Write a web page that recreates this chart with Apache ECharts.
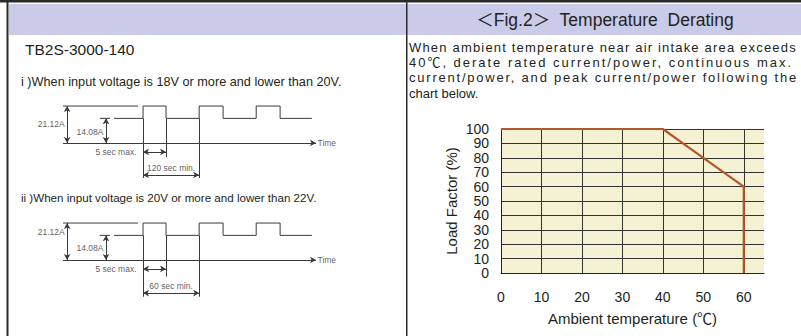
<!DOCTYPE html>
<html><head><meta charset="utf-8">
<script src="https://cdn.jsdelivr.net/npm/echarts@6/dist/echarts.min.js"></script>
<style>
html,body{margin:0;padding:0;background:#fff;}
#c{position:absolute;left:0;top:0;width:801px;height:336px;}
.p{position:absolute;left:409px;font-family:"Liberation Sans",Arial,"Noto Sans CJK JP",sans-serif;font-size:13px;color:#231f20;white-space:nowrap;line-height:15px;}
</style></head><body>
<div id="c"></div>
<div id="para"></div>
<script>
// ---------------- Derating chart data ----------------
const tempTicks = [0, 10, 20, 30, 40, 50, 60];
const loadTicks = [0, 10, 20, 30, 40, 50, 60, 70, 80, 90, 100];
const deratingTemp = [0, 40, 50, 60, 60];
const deratingLoad = [100, 100, 80, 60, 0];

// ---------------- Waveform schematic data (schematic time units, current A) ----------------
const peakCurrent = 21.12;
const ratedCurrent = 14.08;
const waveT = [11.1, 17.4, 17.4, 22.4, 22.4, 29.6, 29.6, 34.8, 34.8, 42.0, 42.0, 47.2, 47.2, 54.1];
const waveI = [14.08, 14.08, 21.12, 21.12, 14.08, 14.08, 21.12, 21.12, 14.08, 14.08, 21.12, 21.12, 14.08, 14.08];
const leadT = [0, 16.3];
const leadI = [21.12, 21.12];
const ratedTickT = [8.0, 10.2];
const timeAxisT = [0, 55];

// ---------------- Texts ----------------
const headerText = "＜Fig.2＞  Temperature  Derating";
const modelText = "TB2S-3000-140";
const cond1Text = "i )When input voltage is 18V or more and lower than 20V.";
const cond2Text = "ii )When input voltage is 20V or more and lower than 22V.";
const paraLines = [
  "When ambient temperature near air intake area  exceeds",
  "40℃, derate rated current/power, continuous max.",
  "current/power, and peak current/power following the",
  "chart below."
];
const xName = "Ambient temperature (℃)";
const yName = "Load Factor (%)";
const peakLabel = "21.12A", ratedLabel = "14.08A", pulseLabel = "5 sec max.", timeLabel = "Time";
const periodLabels = ["120 sec min.", "60 sec min."];

// ---------------- layout (positions in schematic coordinates) ----------------
const waveLayout = [
  {top: 101, peakLblY: 10.7, ratedLblY: 6.5, pulseY: -5.1, periodY: -18.3, periodLblY: -14.3, extLow: -20, extMid: -8},
  {top: 218, peakLblY: 16.0, ratedLblY: 7.0, pulseY: -5.1, periodY: -18.9, periodLblY: -14.7, extLow: -21, extMid: -9.5}
];

const FONT = '"Liberation Sans", Arial, "Noto Sans CJK JP", sans-serif';
const ink = '#231f20';
const wcol = '#3a3a3a';

const zip = (a, b) => a.map((v, i) => [v, b[i]]);

const chart = echarts.init(document.getElementById('c'), null, {renderer: 'svg', width: 801, height: 336});

const grids = [{left: 501, top: 129, width: 263, height: 144, show: true, backgroundColor: '#f4f2d3', borderWidth: 0}];
const xAxes = [{
  gridIndex: 0, type: 'value', min: 0, max: 65, interval: 10,
  axisLine: {show: true, onZero: false, lineStyle: {color: '#222', width: 1}},
  axisTick: {show: false},
  splitLine: {show: true, showMaxLine: false, lineStyle: {color: '#333', width: 1}},
  axisLabel: {fontSize: 14, color: ink, fontFamily: FONT, margin: 17,
    formatter: v => tempTicks.includes(v) ? String(v) : ''},
  name: xName, nameLocation: 'middle', nameGap: 38,
  nameTextStyle: {fontSize: 15, color: ink, fontFamily: FONT}
}];
const yAxes = [{
  gridIndex: 0, type: 'value', min: 0, max: 100, interval: 10,
  axisLine: {show: true, lineStyle: {color: '#222', width: 1}},
  axisTick: {show: false},
  splitLine: {show: true, lineStyle: {color: '#333', width: 1}},
  axisLabel: {fontSize: 14, color: ink, fontFamily: FONT, margin: 12,
    formatter: v => loadTicks.includes(v) ? String(v) : ''},
  name: yName, nameLocation: 'middle', nameGap: 42,
  nameTextStyle: {fontSize: 15, color: ink, fontFamily: FONT}
}];

const series = [{
  type: 'line', xAxisIndex: 0, yAxisIndex: 0, data: zip(deratingTemp, deratingLoad),
  symbol: 'none', lineStyle: {color: '#b5572c', width: 2.2}, z: 5, silent: true
}];

const arrowSym = 'arrow';
const aSize = [5, 6];
function dim(p1, p2, both) {
  return [{coord: p1, symbol: both ? arrowSym : 'none', symbolSize: aSize},
          {coord: p2, symbol: arrowSym, symbolSize: aSize}];
}
function seg(p1, p2) {
  return [{coord: p1, symbol: 'none'}, {coord: p2, symbol: 'none'}];
}

waveLayout.forEach((L, k) => {
  const gi = k + 1;
  grids.push({left: 63, top: L.top, width: 276, height: 84, show: false});
  xAxes.push({gridIndex: gi, type: 'value', min: 0, max: 60, show: false});
  yAxes.push({gridIndex: gi, type: 'value', min: -24, max: 24, show: false});
  const ls = {color: wcol, width: 1};
  series.push({
    type: 'line', xAxisIndex: gi, yAxisIndex: gi, data: zip(waveT, waveI), symbol: 'none',
    lineStyle: ls, silent: true,
    markLine: {
      silent: true, animation: false, label: {show: false}, lineStyle: {color: wcol, width: 1, type: 'solid'},
      emphasis: {disabled: true},
      data: [
        dim([timeAxisT[0], 0], [timeAxisT[1], 0], false),
        dim([0.9, 0], [0.9, peakCurrent], true),
        dim([9.35, 0], [9.35, ratedCurrent], true),
        seg([waveT[1], ratedCurrent], [waveT[1], L.extLow]),
        seg([waveT[3], ratedCurrent], [waveT[3], L.extMid]),
        seg([waveT[5], ratedCurrent], [waveT[5], L.extLow]),
        dim([waveT[1], L.pulseY], [waveT[3], L.pulseY], true),
        dim([waveT[1], L.periodY], [waveT[5], L.periodY], true)
      ]
    }
  });
  series.push({type: 'line', xAxisIndex: gi, yAxisIndex: gi, data: zip(leadT, leadI), symbol: 'none', lineStyle: ls, silent: true});
  series.push({type: 'line', xAxisIndex: gi, yAxisIndex: gi, data: zip(ratedTickT, [ratedCurrent, ratedCurrent]), symbol: 'none', lineStyle: ls, silent: true});
  const lblStyle = {show: true, formatter: '{b}', fontSize: 8.5, color: '#333', fontFamily: FONT};
  series.push({
    type: 'scatter', xAxisIndex: gi, yAxisIndex: gi, symbolSize: 1, itemStyle: {color: 'rgba(0,0,0,0)'}, silent: true,
    label: lblStyle,
    data: [
      {name: peakLabel, value: [0.9, L.peakLblY], label: {position: 'left', distance: 2}},
      {name: ratedLabel, value: [9.35, L.ratedLblY], label: {position: 'left', distance: 2}},
      {name: pulseLabel, value: [waveT[1], L.pulseY], label: {position: 'left', distance: 6}},
      {name: periodLabels[k], value: [(waveT[1] + waveT[5]) / 2, L.periodLblY], label: {position: 'inside'}},
      {name: timeLabel, value: [timeAxisT[1], 0], label: {position: 'right', distance: 1}}
    ]
  });
});

const graphic = [
  {type: 'rect', shape: {x: 0, y: 0, width: 801, height: 2.5}, style: {fill: '#2a2a2a'}, z: 10, silent: true},
  {type: 'rect', shape: {x: 9, y: 4, width: 792, height: 31}, style: {fill: '#c9cbe8'}, z: -10, silent: true},
  {type: 'rect', shape: {x: 6.5, y: 0, width: 2, height: 336}, style: {fill: '#2a2a2a'}, z: 10, silent: true},
  {type: 'rect', shape: {x: 406, y: 0, width: 1.5, height: 336}, style: {fill: '#2a2a2a'}, z: 10, silent: true},
  {type: 'text', x: 605, y: 20, style: {text: headerText, font: '17.5px ' + FONT, fill: ink, textAlign: 'center', textVerticalAlign: 'middle'}, z: 11},
  {type: 'text', x: 25, y: 49, style: {text: modelText, font: '15.5px ' + FONT, fill: ink, textAlign: 'left', textVerticalAlign: 'middle'}, z: 11},
  {type: 'text', x: 21, y: 82, style: {text: cond1Text, font: '12.7px ' + FONT, fill: ink, textAlign: 'left', textVerticalAlign: 'middle'}, z: 11},
  {type: 'text', x: 21, y: 197, style: {text: cond2Text, font: '11.6px ' + FONT, fill: ink, textAlign: 'left', textVerticalAlign: 'middle'}, z: 11}
];

chart.setOption({
  animation: false,
  grid: grids, xAxis: xAxes, yAxis: yAxes, series: series, graphic: graphic
});

// Paragraph (justified lines, as in the datasheet)
const paraCenters = [47, 62, 77, 93];
const paraRight = [798, 793, 798, null];
const para = document.getElementById('para');
paraLines.forEach((t, i) => {
  const d = document.createElement('div');
  d.className = 'p';
  d.textContent = t;
  d.style.top = (paraCenters[i] - 7.5) + 'px';
  para.appendChild(d);
  if (paraRight[i]) {
    const w = d.getBoundingClientRect().width;
    const target = paraRight[i] - 409;
    const n = t.length;
    d.style.letterSpacing = ((target - w) / n) + 'px';
  }
});
</script>
</body></html>
